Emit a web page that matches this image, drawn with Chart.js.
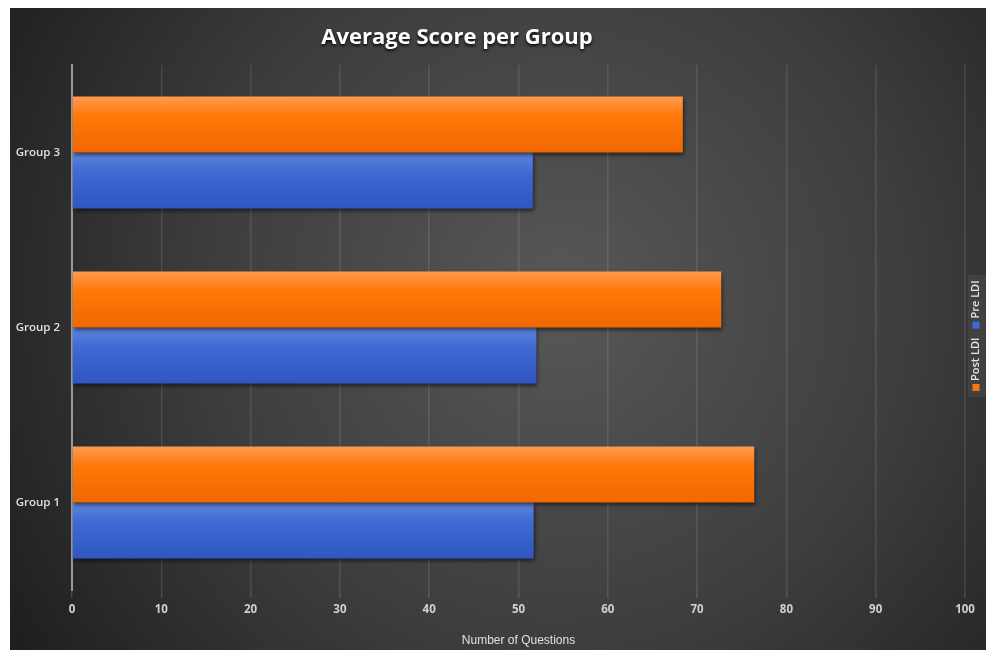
<!DOCTYPE html>
<html>
<head>
<meta charset="utf-8">
<script src="https://cdn.jsdelivr.net/npm/chart.js@4.4.1/dist/chart.umd.min.js"></script>
<style>
    html, body { margin: 0; padding: 0; background: #fff; }
    #wrap { position: absolute; left: 10px; top: 8px; width: 976px; height: 642px; }
</style>
</head>
<body>
<div id="wrap"><canvas id="scoreChart"></canvas></div>
<script>
// data (top to bottom)
const groups = ['Group 3', 'Group 2', 'Group 1'];
const postLdi = [68.4, 72.7, 76.4];
const preLdi = [51.6, 52.0, 51.7];
const xTicks = [0, 10, 20, 30, 40, 50, 60, 70, 80, 90, 100];

const chartTitle = 'Average Score per Group';
const xTitle = 'Number of Questions';

const CAT_PCT = 0.64;

// vertical shading for each bar, like the office-style bevel
function barFill(colors) {
    return function(ctx) {
        const chart = ctx.chart;
        const y = chart.scales.y;
        if (!chart.chartArea || !y) return colors[1];
        const catH = (y.bottom - y.top) / groups.length;
        const barH = catH * CAT_PCT / 2;
        const c = y.getPixelForValue(ctx.dataIndex);
        const top = c - barH + ctx.datasetIndex * barH;
        const g = chart.ctx.createLinearGradient(0, top, 0, top + barH);
        g.addColorStop(0, colors[0]);
        g.addColorStop(0.35, colors[1]);
        g.addColorStop(1, colors[2]);
        return g;
    };
}

const backgroundPlugin = {
    id: 'bg',
    beforeDraw(chart) {
        const ctx = chart.ctx;
        const w = chart.width, h = chart.height;
        ctx.save();
        const g = ctx.createRadialGradient(550, 290, 0, 550, 290, 640);
        g.addColorStop(0, '#585858');
        g.addColorStop(0.55, '#3d3d3d');
        g.addColorStop(1, '#1f1f1f');
        ctx.fillStyle = g;
        ctx.fillRect(0, 0, w, h);
        ctx.restore();
    }
};

const shadowPlugin = {
    id: 'barShadow',
    beforeDatasetsDraw(chart) {
        const ctx = chart.ctx;
        ctx.save();
        ctx.shadowColor = 'rgba(0,0,0,0.55)';
        ctx.shadowBlur = 4;
        ctx.shadowOffsetX = 1;
        ctx.shadowOffsetY = 2;
    },
    afterDatasetsDraw(chart) {
        chart.ctx.restore();
    }
};

const titlePlugin = {
    id: 'titleText',
    afterDraw(chart) {
        const ctx = chart.ctx;
        ctx.save();
        ctx.font = 'bold 22px "Open Sans"';
        ctx.textAlign = 'center';
        ctx.textBaseline = 'middle';
        ctx.shadowColor = 'rgba(0,0,0,0.85)';
        ctx.shadowBlur = 3;
        ctx.shadowOffsetY = 2;
        ctx.fillStyle = '#ffffff';
        ctx.fillText(chartTitle, 447, 30);
        ctx.restore();
    }
};

// legend sits on the right, rotated to read bottom-to-top
const sideLegendPlugin = {
    id: 'sideLegend',
    afterDraw(chart) {
        const ctx = chart.ctx;
        ctx.save();
        ctx.fillStyle = '#414141';
        ctx.fillRect(958, 267, 18, 122);
        ctx.translate(966, 383);
        ctx.rotate(-Math.PI / 2);
        ctx.font = '600 11px "Open Sans"';
        ctx.textBaseline = 'middle';
        let x = 0;
        chart.data.datasets.forEach(ds => {
            ctx.fillStyle = ds.legendColor;
            ctx.fillRect(x, -3.5, 7, 7);
            x += 10;
            ctx.fillStyle = '#e6e6e6';
            ctx.fillText(ds.label, x, 0);
            x += ctx.measureText(ds.label).width + 9;
        });
        ctx.restore();
    }
};

new Chart(document.getElementById('scoreChart'), {
    type: 'bar',
    data: {
        labels: groups,
        datasets: [{
            label: 'Post LDI',
            data: postLdi,
            legendColor: '#ff7400',
            backgroundColor: barFill(['#ff9a50', '#ff7808', '#f06800']),
            categoryPercentage: CAT_PCT,
            barPercentage: 1
        }, {
            label: 'Pre LDI',
            data: preLdi,
            legendColor: '#3f6ad6',
            backgroundColor: barFill(['#6086de', '#4069d2', '#2f56c2']),
            categoryPercentage: CAT_PCT,
            barPercentage: 1
        }]
    },
    options: {
        indexAxis: 'y',
        responsive: true,
        maintainAspectRatio: false,
        animation: false,
        layout: { padding: { top: 57, right: 21, left: 0, bottom: 0 } },
        plugins: {
            legend: { display: false },
            title: { display: false },
            tooltip: { enabled: false }
        },
        scales: {
            x: {
                min: 0,
                max: 100,
                afterBuildTicks(scale) { scale.ticks = xTicks.map(v => ({ value: v })); },
                afterFit(scale) { scale.height = 60; },
                grid: {
                    color: 'rgba(255,255,255,0.11)',
                    lineWidth: 1.5,
                    tickLength: 8,
                    tickColor: 'rgba(255,255,255,0.14)'
                },
                border: { display: false },
                ticks: {
                    color: '#d0d0d0',
                    padding: 5,
                    font: { family: '"Open Sans"', size: 11.5, weight: 'bold' }
                },
                title: {
                    display: true,
                    text: xTitle,
                    color: '#e0e0e0',
                    padding: { top: 0, bottom: 2 },
                    font: { family: '"Liberation Sans"', size: 12 }
                }
            },
            y: {
                afterFit(scale) { scale.width = 62; },
                grid: { display: false, drawTicks: false },
                border: { display: true, color: '#9a9a9a', width: 2 },
                ticks: {
                    color: '#e0e0e0',
                    padding: 12,
                    font: { family: '"Open Sans"', size: 11.5, weight: '600' }
                }
            }
        }
    },
    plugins: [backgroundPlugin, shadowPlugin, titlePlugin, sideLegendPlugin]
});
</script>
</body>
</html>
